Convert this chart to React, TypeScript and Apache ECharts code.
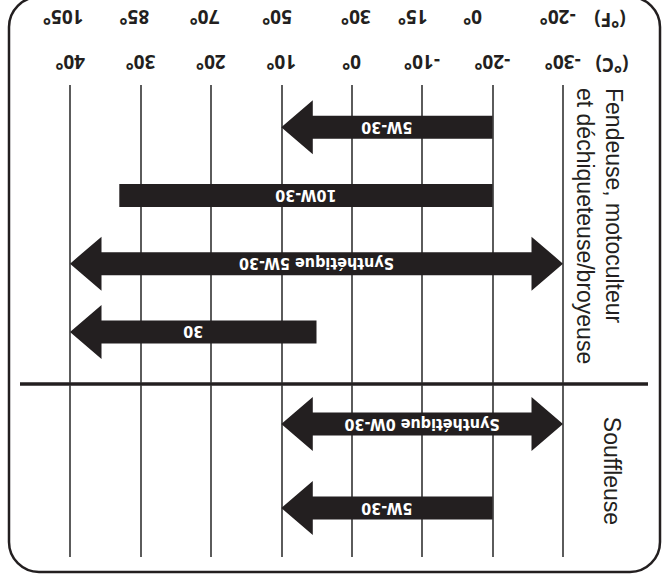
import React, { useEffect, useRef } from 'react';
import * as echarts from 'echarts';

// Temperature scale (°C) and the °F labels as placed in the picture
const celsiusTicks = [-30, -20, -10, 0, 10, 20, 30, 40];
const fahrenheitLabels = [-20, 0, 15, 30, 50, 70, 85, 105];
const fahrenheitAtCelsius = [-29.3, -17.2, -8.7, -0.6, 10.6, 20.9, 30.9, 41.0];

// Upper group: Fendeuse, motoculteur et déchiqueteuse/broyeuse
const upperGrades = ['5W-30', '10W-30', 'Synthétique 5W-30', '30'];
const upperLowC = [-20, -20, -30, 5];
const upperHighC = [10, 33, 40, 40];
const upperOpenLow = [false, false, true, false];
const upperOpenHigh = [true, false, true, true];

// Lower group: Souffleuse
const lowerGrades = ['Synthétique 0W-30', '5W-30'];
const lowerLowC = [-30, -20];
const lowerHighC = [10, 10];
const lowerOpenLow = [true, false];
const lowerOpenHigh = [true, true];

const upperGroupLines = ['Fendeuse, motoculteur', 'et déchiqueteuse/broyeuse'];
const lowerGroupLabel = 'Souffleuse';

const INK = '#231f20';
const HEAD_FONT = '"Open Sans", "DejaVu Sans", sans-serif';

function makeRender(labels: string[]) {
  return (params: any, api: any) => {
    const row = api.value(2);
    const pLo = api.coord([api.value(0), row]);
    const pHi = api.coord([api.value(1), row]);
    const openLo = api.value(3) === 1;
    const openHi = api.value(4) === 1;
    const xl = Math.min(pLo[0], pHi[0]);
    const xr = Math.max(pLo[0], pHi[0]);
    const headLeft = pLo[0] < pHi[0] ? openLo : openHi;
    const headRight = pLo[0] < pHi[0] ? openHi : openLo;
    const cy = pLo[1];
    const SH = 11.5, HH = 27, HL = 31.5;
    const pts: number[][] = [];
    if (headLeft) pts.push([xl, cy], [xl + HL, cy - HH], [xl + HL, cy - SH]);
    else pts.push([xl, cy + SH], [xl, cy - SH]);
    if (headRight) pts.push([xr - HL, cy - SH], [xr - HL, cy - HH], [xr, cy], [xr - HL, cy + HH], [xr - HL, cy + SH]);
    else pts.push([xr, cy - SH], [xr, cy + SH]);
    if (headLeft) pts.push([xl + HL, cy + SH], [xl + HL, cy + HH]);
    return {
      type: 'group',
      children: [
        { type: 'polygon', shape: { points: pts }, style: { fill: INK } },
        {
          type: 'text',
          x: (xl + xr) / 2,
          y: cy,
          rotation: Math.PI,
          style: {
            text: labels[params.dataIndex],
            fill: '#ffffff',
            fontSize: 16,
            fontWeight: 'bold',
            fontFamily: '"DejaVu Sans Condensed", "DejaVu Sans", sans-serif',
            align: 'center',
            verticalAlign: 'middle',
          },
        },
      ],
    };
  };
}

const headerLabel = {
  rotate: 180,
  margin: 14,
  color: INK,
  fontSize: 19,
  fontWeight: 'bold' as const,
  fontFamily: HEAD_FONT,
};

export default function App() {
  const ref = useRef<HTMLDivElement>(null);
  useEffect(() => {
    if (!ref.current) return;
    const chart = echarts.init(ref.current, undefined, { renderer: 'svg' });
    const hiddenX = (gridIndex: number) => ({
      gridIndex, type: 'value', min: -30, max: 40, inverse: true, show: false,
    });
    const gridX = (gridIndex: number) => ({
      gridIndex, type: 'value', min: -30, max: 40, interval: 10, inverse: true,
      axisLine: { show: false }, axisTick: { show: false }, axisLabel: { show: false },
      splitLine: { show: true, lineStyle: { color: '#333333', width: 1.6 } },
    });
    const option: any = {
      animation: false,
      grid: [
        { left: 35, right: 35, top: 85, height: 1 },
        { left: 70, right: 105, top: 85, height: 298 },
        { left: 70, right: 105, top: 93, height: 273 },
        { left: 70, right: 105, top: 385, height: 172 },
        { left: 70, right: 105, top: 382, height: 168 },
      ],
      xAxis: [
        {
          gridIndex: 0, type: 'value', min: -40, max: 45, inverse: true, position: 'top',
          axisLine: { show: false }, axisTick: { show: false }, splitLine: { show: false },
          axisLabel: { ...headerLabel, customValues: celsiusTicks, formatter: (v: number) => `${v}°` },
        },
        {
          gridIndex: 0, type: 'value', min: -40, max: 45, inverse: true, position: 'top', offset: 45,
          axisLine: { show: false }, axisTick: { show: false }, splitLine: { show: false },
          axisLabel: {
            ...headerLabel,
            customValues: fahrenheitAtCelsius,
            formatter: (v: number) => {
              const i = fahrenheitAtCelsius.findIndex((c) => Math.abs(c - v) < 0.01);
              return i >= 0 ? `${fahrenheitLabels[i]}°` : '';
            },
          },
        },
        gridX(1),
        hiddenX(2),
        gridX(3),
        hiddenX(4),
      ],
      yAxis: [
        { gridIndex: 0, type: 'value', show: false },
        { gridIndex: 1, type: 'value', show: false },
        { gridIndex: 2, type: 'category', data: upperGrades, inverse: true, show: false },
        { gridIndex: 3, type: 'value', show: false },
        { gridIndex: 4, type: 'category', data: lowerGrades, inverse: true, show: false },
      ],
      series: [
        {
          type: 'custom', xAxisIndex: 3, yAxisIndex: 2,
          encode: { x: [0, 1], y: 2 },
          renderItem: makeRender(upperGrades),
          data: upperGrades.map((_, i) => [upperLowC[i], upperHighC[i], i, upperOpenLow[i] ? 1 : 0, upperOpenHigh[i] ? 1 : 0]),
        },
        {
          type: 'custom', xAxisIndex: 5, yAxisIndex: 4,
          encode: { x: [0, 1], y: 2 },
          renderItem: makeRender(lowerGrades),
          data: lowerGrades.map((_, i) => [lowerLowC[i], lowerHighC[i], i, lowerOpenLow[i] ? 1 : 0, lowerOpenHigh[i] ? 1 : 0]),
        },
      ],
      graphic: [
        {
          type: 'rect', shape: { x: 9, y: -3, width: 651, height: 575, r: 30 },
          style: { fill: 'none', stroke: INK, lineWidth: 2.5 },
        },
        {
          type: 'line', shape: { x1: 20, y1: 384, x2: 648, y2: 384 },
          style: { stroke: INK, lineWidth: 3.5 },
        },
        {
          type: 'text', x: 610, y: 20, rotation: Math.PI,
          style: { text: '(°F)', fill: INK, fontSize: 19, fontWeight: 'bold', fontFamily: HEAD_FONT, align: 'center', verticalAlign: 'middle' },
        },
        {
          type: 'text', x: 612, y: 65, rotation: Math.PI,
          style: { text: '(°C)', fill: INK, fontSize: 19, fontWeight: 'bold', fontFamily: HEAD_FONT, align: 'center', verticalAlign: 'middle' },
        },
        {
          type: 'text', x: 614, y: 88, rotation: -Math.PI / 2,
          style: { text: upperGroupLines[0], fill: INK, fontSize: 23, fontFamily: '"Liberation Sans", sans-serif', align: 'left', verticalAlign: 'middle' },
        },
        {
          type: 'text', x: 585, y: 88, rotation: -Math.PI / 2,
          style: { text: upperGroupLines[1], fill: INK, fontSize: 23, fontFamily: '"Liberation Sans", sans-serif', align: 'left', verticalAlign: 'middle' },
        },
        {
          type: 'text', x: 612, y: 471, rotation: -Math.PI / 2,
          style: { text: lowerGroupLabel, fill: INK, fontSize: 23, fontFamily: '"Liberation Sans", sans-serif', align: 'center', verticalAlign: 'middle' },
        },
      ],
    };
    chart.setOption(option);
    return () => chart.dispose();
  }, []);
  return (
    <div
      ref={ref}
      style={{ position: 'fixed', left: 0, top: 0, width: 668, height: 580, background: '#ffffff' }}
    />
  );
}
